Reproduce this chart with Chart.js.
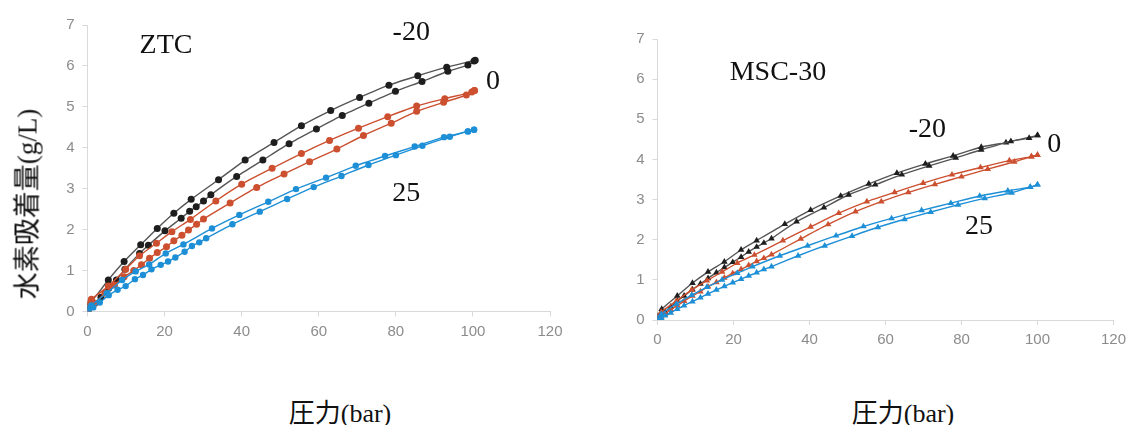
<!DOCTYPE html>
<html>
<head>
<meta charset="utf-8">
<script src="https://cdn.jsdelivr.net/npm/chart.js@4.4.1/dist/chart.umd.min.js"></script>
<style>
    body { margin: 0; background: #fff; width: 1132px; height: 425px; position: relative; overflow: hidden; }
    .panel { position: absolute; top: 0; }
    .ytitle {
        position: absolute; left: 25px; top: 204px;
        transform: translate(-50%, -50%) rotate(-90deg);
        font-size: 27px; color: #111; white-space: nowrap;
    }
    .xtitle {
        position: absolute; top: 410px; transform: translate(-50%, -50%);
        font-size: 26px; color: #111; white-space: nowrap;
    }
    .cjk { font-family: "Noto Sans CJK JP", sans-serif; }
    .lat { font-family: "Liberation Serif", "Times New Roman", "DejaVu Serif", serif; }
</style>
</head>
<body>
<canvas id="ztcChart" class="panel" style="left:0" width="570" height="350"></canvas>
<canvas id="mscChart" class="panel" style="left:570px" width="562" height="350"></canvas>
<div class="ytitle"><span class="cjk">水素吸着量</span><span class="lat">(g/L)</span></div>
<div class="xtitle" style="left:340px"><span class="cjk">圧力</span><span class="lat">(bar)</span></div>
<div class="xtitle" style="left:903px"><span class="cjk">圧力</span><span class="lat">(bar)</span></div>

<script>
// ---- ZTC (left), pressure (bar) / uptake (g/L) ----
// -20 C
const ztcM20AdsP = [0.3, 1.5, 3.5, 5.5, 7.5, 9.7, 13.5, 15.8, 20.1, 24.3, 26.5, 28.2, 30.1, 32.0, 38.7, 45.5, 52.3, 59.4, 66.1, 73.0, 79.9, 86.8, 93.5, 98.7, 100.3];
const ztcM20AdsQ = [0.05, 0.18, 0.35, 0.57, 0.77, 1.03, 1.42, 1.62, 1.97, 2.28, 2.45, 2.56, 2.70, 2.85, 3.30, 3.70, 4.10, 4.46, 4.79, 5.09, 5.38, 5.62, 5.87, 6.02, 6.12];
const ztcM20DesP = [0, 1.1, 5.4, 9.5, 13.8, 18.1, 22.4, 26.9, 34.0, 40.9, 48.4, 55.5, 63.1, 70.6, 78.2, 85.7, 93.2, 100.6];
const ztcM20DesQ = [0.15, 0.25, 0.77, 1.22, 1.63, 2.03, 2.40, 2.74, 3.22, 3.70, 4.13, 4.54, 4.91, 5.23, 5.53, 5.76, 5.97, 6.14];
// 0 C
const ztc0AdsP = [0.3, 2, 4.5, 7, 9.5, 12, 14.0, 16.1, 18.1, 20.5, 22.4, 24.5, 26.2, 28.3, 30.1, 37.0, 43.9, 51.0, 57.6, 64.7, 71.6, 78.8, 85.4, 92.4, 98.3, 100.4];
const ztc0AdsQ = [0.05, 0.2, 0.45, 0.65, 0.85, 1.0, 1.14, 1.30, 1.44, 1.58, 1.73, 1.86, 1.99, 2.13, 2.26, 2.65, 3.03, 3.36, 3.66, 3.97, 4.30, 4.60, 4.89, 5.11, 5.29, 5.40];
const ztc0DesP = [0, 1, 5.4, 9.9, 13.5, 17.9, 21.9, 26.7, 33.3, 40.0, 47.9, 55.5, 62.8, 70.3, 77.9, 85.4, 92.7, 99.7, 100.4];
const ztc0DesQ = [0.2, 0.3, 0.62, 1.03, 1.36, 1.67, 1.95, 2.25, 2.70, 3.11, 3.50, 3.86, 4.18, 4.48, 4.76, 5.02, 5.20, 5.36, 5.40];
// 25 C
const ztc25AdsP = [0.3, 1.5, 3.2, 5.5, 7.8, 9.9, 12.3, 14.4, 16.6, 19.0, 20.9, 22.8, 25.2, 27.1, 29.0, 30.8, 37.6, 44.7, 51.8, 58.7, 65.9, 72.9, 80.0, 86.9, 94.0, 98.7, 100.3];
const ztc25AdsQ = [0.02, 0.1, 0.22, 0.40, 0.53, 0.62, 0.79, 0.89, 1.03, 1.14, 1.22, 1.32, 1.46, 1.60, 1.69, 1.79, 2.13, 2.44, 2.75, 3.04, 3.31, 3.58, 3.82, 4.05, 4.27, 4.40, 4.44];
const ztc25DesP = [0, 1, 5, 9, 12.5, 16.0, 20.3, 24.9, 32.3, 39.4, 46.9, 54.1, 61.9, 69.6, 77.2, 84.9, 92.5, 98.7, 100.3];
const ztc25DesQ = [0.08, 0.15, 0.45, 0.77, 0.98, 1.15, 1.42, 1.64, 2.03, 2.36, 2.68, 2.99, 3.27, 3.56, 3.80, 4.03, 4.26, 4.40, 4.44];

// ---- MSC-30 (right) ----
const mscM20AdsP = [0.2, 1, 2, 3.5, 5.2, 7, 9.2, 11.3, 13.3, 15.5, 17.6, 19.8, 22, 24, 26.1, 28, 30, 36.6, 43.8, 50.3, 57.3, 64.3, 71.5, 78.5, 85.2, 93.0, 97.8, 100];
const mscM20AdsQ = [0.03, 0.12, 0.2, 0.33, 0.47, 0.6, 0.76, 0.9, 1.04, 1.18, 1.31, 1.44, 1.57, 1.7, 1.82, 1.92, 2.03, 2.45, 2.8, 3.12, 3.37, 3.62, 3.84, 4.04, 4.24, 4.45, 4.53, 4.6];
const mscM20DesP = [0, 1.1, 5.2, 9.2, 13.3, 17.6, 22, 26.1, 33.5, 40.3, 48.2, 55.6, 63.0, 70.5, 77.8, 85.2, 91.7, 100];
const mscM20DesQ = [0.1, 0.27, 0.6, 0.92, 1.2, 1.45, 1.75, 1.98, 2.39, 2.74, 3.09, 3.39, 3.66, 3.89, 4.09, 4.31, 4.42, 4.6];
const msc0AdsP = [0.2, 1, 2, 3.5, 5.2, 7, 9.2, 11.3, 13.3, 15.5, 17.6, 19.8, 22, 24, 26.1, 28, 30, 37.7, 44.9, 52.1, 58.9, 66, 73, 80, 86.9, 93.9, 98.4, 100];
const msc0AdsQ = [0.02, 0.08, 0.15, 0.26, 0.36, 0.47, 0.6, 0.71, 0.83, 0.94, 1.05, 1.16, 1.26, 1.36, 1.46, 1.54, 1.63, 2.02, 2.38, 2.70, 2.95, 3.18, 3.38, 3.57, 3.76, 3.94, 4.07, 4.11];
const msc0DesP = [0, 1, 5, 9, 13, 17, 21, 25.5, 33, 40.3, 47.7, 55.1, 62.4, 69.9, 77.5, 85, 92.6, 98.4, 100];
const msc0DesQ = [0.08, 0.2, 0.48, 0.75, 0.98, 1.2, 1.42, 1.62, 1.98, 2.32, 2.66, 2.95, 3.18, 3.41, 3.62, 3.80, 3.97, 4.07, 4.11];
const msc25AdsP = [0.2, 1, 2, 3.5, 5.2, 7, 9.2, 11.3, 13.3, 15.5, 17.6, 19.8, 22, 24, 26.1, 28, 30, 37, 44, 51.2, 58, 65, 71.9, 79.1, 86.1, 93.2, 98.1, 100];
const msc25AdsQ = [0.01, 0.05, 0.11, 0.18, 0.27, 0.36, 0.46, 0.56, 0.65, 0.75, 0.84, 0.93, 1.02, 1.1, 1.18, 1.26, 1.33, 1.6, 1.85, 2.09, 2.31, 2.51, 2.69, 2.87, 3.03, 3.17, 3.31, 3.37];
const msc25DesP = [0, 1, 5, 9, 13, 17, 21, 25, 32.2, 39.5, 47, 54.2, 61.6, 69.5, 77.2, 84.8, 92.2, 98.1, 100];
const msc25DesQ = [0.05, 0.15, 0.4, 0.62, 0.82, 1.0, 1.17, 1.33, 1.6, 1.85, 2.1, 2.33, 2.53, 2.73, 2.91, 3.09, 3.22, 3.31, 3.37];

const BLACK = "#1e1e1e", BLACK_LINE = "#555555";
const RED = "#cc5030", BLUE = "#1d8fd6";
const SERIF = '"Liberation Serif", "Times New Roman", "DejaVu Serif", serif';

function pts(xs, ys) {
    return xs.map((x, i) => ({ x: x, y: ys[i] }));
}

function series(xs, ys, color, lineColor, shape, radius) {
    return {
        data: pts(xs, ys),
        showLine: true,
        borderColor: lineColor,
        borderWidth: 1.4,
        backgroundColor: color,
        pointBackgroundColor: color,
        pointBorderColor: color,
        pointBorderWidth: 0,
        pointStyle: shape,
        pointRadius: radius,
        tension: 0.2
    };
}

// text labels drawn in data coordinates
const textLabels = {
    id: "textLabels",
    afterDatasetsDraw(chart, args, opts) {
        const ctx = chart.ctx;
        const x = chart.scales.x, y = chart.scales.y;
        ctx.save();
        ctx.font = "28px " + SERIF;
        ctx.fillStyle = "#111";
        ctx.textBaseline = "middle";
        opts.items.forEach(it => {
            ctx.textAlign = it.align || "center";
            ctx.fillText(it.text, x.getPixelForValue(it.x), y.getPixelForValue(it.y));
        });
        ctx.restore();
    }
};

function options(padTop, padRight, xHeight, items) {
    const tickFont = { family: '"Liberation Sans", Arial, sans-serif', size: 15 };
    return {
        responsive: false,
        animation: false,
        devicePixelRatio: 1,
        layout: { padding: { top: padTop, right: padRight, left: 0, bottom: 0 } },
        plugins: {
            legend: { display: false },
            tooltip: { enabled: false },
            textLabels: { items: items }
        },
        scales: {
            x: {
                type: "linear", min: 0, max: 120,
                grid: { drawOnChartArea: false, drawTicks: true, tickLength: 5, color: "#d9d9d9" },
                border: { display: true, color: "#d9d9d9", width: 1 },
                ticks: { stepSize: 20, color: "#8c8c8c", font: tickFont, padding: 6, maxRotation: 0 },
                afterFit(s) { s.height = xHeight; }
            },
            y: {
                type: "linear", min: 0, max: 7,
                grid: { drawOnChartArea: false, drawTicks: true, tickLength: 5, color: "#d9d9d9" },
                border: { display: true, color: "#d9d9d9", width: 1 },
                ticks: { stepSize: 1, color: "#8c8c8c", font: tickFont, padding: 8 },
                afterFit(s) { s.width = 87.5; }
            }
        }
    };
}

function drawCharts() {
    new Chart(document.getElementById("ztcChart").getContext("2d"), {
        type: "scatter",
        data: {
            datasets: [
                series(ztc25AdsP, ztc25AdsQ, BLUE, BLUE, "circle", 3.2),
                series(ztc25DesP, ztc25DesQ, BLUE, BLUE, "circle", 3.2),
                series(ztc0AdsP, ztc0AdsQ, RED, RED, "circle", 3.5),
                series(ztc0DesP, ztc0DesQ, RED, RED, "circle", 3.5),
                series(ztcM20AdsP, ztcM20AdsQ, BLACK, BLACK_LINE, "circle", 3.5),
                series(ztcM20DesP, ztcM20DesQ, BLACK, BLACK_LINE, "circle", 3.5)
            ]
        },
        options: options(25, 20, 38.5, [
            { text: "ZTC", x: 13.5, y: 6.5, align: "left" },
            { text: "-20", x: 84, y: 6.81 },
            { text: "0", x: 105.2, y: 5.61 },
            { text: "25", x: 82.7, y: 2.87 }
        ]),
        plugins: [textLabels]
    });

    new Chart(document.getElementById("mscChart").getContext("2d"), {
        type: "scatter",
        data: {
            datasets: [
                series(msc25AdsP, msc25AdsQ, BLUE, BLUE, "triangle", 3.8),
                series(msc25DesP, msc25DesQ, BLUE, BLUE, "triangle", 3.8),
                series(msc0AdsP, msc0AdsQ, RED, RED, "triangle", 3.8),
                series(msc0DesP, msc0DesQ, RED, RED, "triangle", 3.8),
                series(mscM20AdsP, mscM20AdsQ, BLACK, BLACK_LINE, "triangle", 3.8),
                series(mscM20DesP, mscM20DesQ, BLACK, BLACK_LINE, "triangle", 3.8)
            ]
        },
        options: options(39, 16, 30, [
            { text: "MSC-30", x: 19, y: 6.16, align: "left" },
            { text: "-20", x: 71, y: 4.74 },
            { text: "0", x: 104.4, y: 4.36 },
            { text: "25", x: 84.6, y: 2.32 }
        ]),
        plugins: [textLabels]
    });
}

// make sure the serif face is ready before the canvas text is drawn
Promise.all([
    document.fonts.load('28px "Liberation Serif"'),
    document.fonts.load('15px "Liberation Sans"')
]).then(drawCharts, drawCharts);
</script>
</body>
</html>
